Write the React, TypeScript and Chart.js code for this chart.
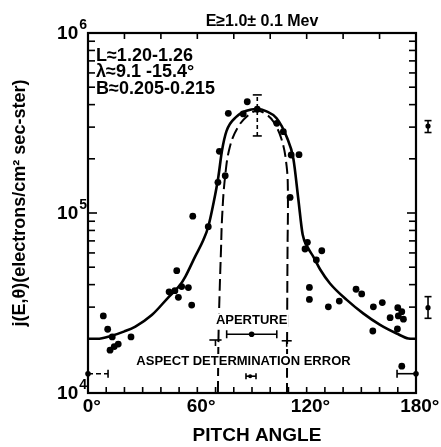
import { useEffect, useRef } from "react";
import { Chart, registerables } from "chart.js";

Chart.register(...registerables);

// Measured electron flux vs. pitch angle (degrees, electrons/cm² sec-ster)
const pointAngles = [
  8.4, 10.8, 12.1, 13.3, 14.4, 16.6, 23.6, 44.5, 47.7, 48.7, 49.6, 51.4, 55.1, 56.9, 57.5, 66.0,
  71.3, 72.1, 75.3, 77.0, 85.2, 87.4, 92.9, 103.6, 107.2, 110.9, 111.5, 115.8, 119.1, 120.4, 121.5,
  121.5, 125.3, 128.3, 131.9, 137.9, 147.1, 150.2, 156.3, 156.6, 161.5, 165.8, 169.8, 170.0, 170.3,
  172.2, 172.2, 173.1,
];
const pointFluxes = [
  2.68e4, 2.26e4, 1.73e4, 2.05e4, 1.81e4, 1.87e4, 2.05e4, 3.65e4, 3.7e4, 4.78e4, 3.4e4, 3.9e4, 3.85e4,
  3.08e4, 9.6e4, 8.4e4, 1.48e5, 2.2e5, 1.61e5, 3.58e5, 3.55e5, 4.15e5, 3.77e5, 3.15e5, 2.83e5, 1.22e5,
  2.1e5, 2.11e5, 6.31e4, 6.87e4, 3.86e4, 3.31e4, 5.48e4, 6.17e4, 3.01e4, 3.24e4, 3.77e4, 3.55e4,
  2.21e4, 3.01e4, 3.18e4, 2.62e4, 2.27e4, 2.98e4, 2.68e4, 2.83e4, 1.41e4, 2.57e4,
];

// Fitted distribution (solid)
const fitAngles = [
  0, 5, 13, 20, 26, 35, 44, 50.5, 53.5, 58.7, 63.3, 66, 69, 71.5, 73.5, 76, 81.5, 87, 92.5, 98, 103.5,
  109, 112.7, 115.4, 117.8, 120.5, 123.7, 127.5, 132.8, 142, 151, 160.3, 169.4, 175.8, 180,
];
const fitFluxes = [
  2.0e4, 2.0e4, 2.08e4, 2.2e4, 2.34e4, 2.71e4, 3.39e4, 3.98e4, 4.45e4, 5.71e4, 7.08e4, 8.39e4, 1.15e5,
  1.58e5, 2.21e5, 2.85e5, 3.43e5, 3.7e5, 3.78e5, 3.67e5, 3.36e5, 2.65e5, 2.0e5, 1.2e5, 7.59e4, 6.46e4,
  5.71e4, 4.84e4, 4.06e4, 3.29e4, 2.77e4, 2.39e4, 2.14e4, 2.01e4, 2.0e4,
];

// Distribution corrected for aperture (dashed)
const apertureAngles = [
  71.3, 71.6, 72.2, 73.0, 73.6, 75.2, 77.9, 82.5, 88, 92.9, 97.5, 101.7, 106.3, 109.0, 109.7, 109.5,
  109.3, 109.2,
];
const apertureFluxes = [
  1.0e4, 2.0e4, 3.55e4, 6.3e4, 9.5e4, 1.58e5, 2.34e5, 3.02e5, 3.5e5, 3.7e5, 3.55e5, 3.22e5, 2.55e5,
  1.82e5, 1.29e5, 6.3e4, 2.5e4, 1.0e4,
];

// Vertical error bars (peak and representative bars beside the frame)
const vBarAngles = [92.9, 186.6, 186.6];
const vBarLow = [2.68e5, 2.8e5, 2.6e4];
const vBarHigh = [4.53e5, 3.26e5, 3.43e4];
const vBarMid = [0, 3.04e5, 2.98e4];

// Horizontal error bars: angular resolution, aperture, aspect determination
const hBarMid = [0, 180, 89.8, 89.0];
const hBarFlux = [1.28e4, 1.28e4, 2.12e4, 1.24e4];
const hBarFrom = [0, 169.6, 76.1, 86.7];
const hBarTo = [11, 180, 103.6, 92.2];

// Aspect markers on the aperture limits
const markFrom = [66.6, 106.3];
const markTo = [73.3, 111.8];
const markFlux = [1.97e4, 1.95e4];

// Axis ticks and labels
const bottomTicks = [0, 10, 20, 30, 40, 50, 60, 70, 80, 90, 100, 110, 120, 130, 140, 150, 160, 170, 180];
const topTicks = [0, 20, 40, 60, 80, 100, 120, 140, 160, 180];
const fluxTicks = [
  1e4, 2e4, 3e4, 4e4, 5e4, 6e4, 7e4, 8e4, 9e4, 1e5, 2e5, 3e5, 4e5, 5e5, 6e5, 7e5, 8e5, 9e5, 1e6,
];
const angleLabels = [0, 60, 120, 180];
const decadeValues = [1e4, 1e5, 1e6];
const decadeExponents = ["4", "5", "6"];

const titleText = "E≥1.0± 0.1 Mev";
const conditionLines = ["L≈1.20-1.26", "λ≈9.1 -15.4°", "B≈0.205-0.215"];
const yTitle = "j(E,θ)(electrons/cm² sec-ster)";
const xTitle = "PITCH ANGLE";
const apertureLabel = "APERTURE";
const aspectLabel = "ASPECT DETERMINATION ERROR";

const FONT = "'Liberation Sans', Arial, sans-serif";

const framePlugin = {
  id: "pitchFrame",
  beforeDraw(chart: any) {
    const { ctx, width, height } = chart;
    ctx.save();
    ctx.fillStyle = "#fff";
    ctx.fillRect(0, 0, width, height);
    ctx.restore();
  },
  afterDraw(chart: any) {
    const { ctx, chartArea, scales } = chart;
    const { left, right, top, bottom } = chartArea;
    const xs = scales.x;
    const ys = scales.y;
    const line = (x1: number, y1: number, x2: number, y2: number) => {
      ctx.beginPath();
      ctx.moveTo(x1, y1);
      ctx.lineTo(x2, y2);
      ctx.stroke();
    };
    const dot = (px: number, py: number, r: number) => {
      ctx.beginPath();
      ctx.arc(px, py, r, 0, Math.PI * 2);
      ctx.fill();
    };
    const boxedText = (t: string, cx: number, cy: number) => {
      const w = ctx.measureText(t).width;
      ctx.save();
      ctx.fillStyle = "#fff";
      ctx.fillRect(cx - w / 2 - 1, cy - 7, w + 2, 14);
      ctx.restore();
      ctx.fillText(t, cx, cy);
    };

    ctx.save();
    ctx.strokeStyle = "#000";
    ctx.fillStyle = "#000";

    // frame
    ctx.lineWidth = 2.2;
    ctx.strokeRect(left, top, right - left, bottom - top);

    // inward ticks
    ctx.lineWidth = 1.6;
    bottomTicks.forEach((a) => {
      const px = xs.getPixelForValue(a);
      line(px, bottom, px, bottom - 6);
    });
    topTicks.forEach((a) => {
      const px = xs.getPixelForValue(a);
      line(px, top, px, top + 6);
    });
    fluxTicks.forEach((v) => {
      const py = ys.getPixelForValue(v);
      const len = decadeValues.includes(v) ? 9 : 7;
      line(left, py, left + len, py);
      line(right, py, right - len, py);
    });

    // x tick labels, number centred on the tick
    ctx.font = `bold 19px ${FONT}`;
    ctx.textBaseline = "middle";
    ctx.textAlign = "left";
    angleLabels.forEach((a) => {
      const px = xs.getPixelForValue(a);
      const num = String(a);
      const w = ctx.measureText(num).width;
      ctx.fillText(num + "°", px - w / 2, bottom + 14);
    });

    // y tick labels: 10 with superscript exponent
    decadeValues.forEach((v, i) => {
      const py = ys.getPixelForValue(v);
      ctx.font = `bold 14px ${FONT}`;
      const ew = ctx.measureText(decadeExponents[i]).width;
      ctx.textAlign = "left";
      ctx.textBaseline = "alphabetic";
      ctx.fillText(decadeExponents[i], left - 1 - ew, py - 4);
      ctx.font = `bold 19px ${FONT}`;
      ctx.textAlign = "right";
      ctx.textBaseline = "middle";
      ctx.fillText("10", left - 2 - ew, py + 1);
    });

    // titles
    ctx.textAlign = "center";
    ctx.textBaseline = "middle";
    ctx.font = `bold 16px ${FONT}`;
    ctx.fillText(titleText, 262, 22);
    ctx.font = `bold 19px ${FONT}`;
    ctx.fillText(xTitle, 257, 436);
    ctx.save();
    ctx.translate(20, 203);
    ctx.rotate(-Math.PI / 2);
    ctx.font = `bold 18px ${FONT}`;
    const tw = ctx.measureText(yTitle).width;
    const sx = Math.min(1, 279 / tw);
    ctx.scale(sx, 1);
    ctx.fillText(yTitle, 0, 0);
    ctx.restore();

    // conditions block
    ctx.textAlign = "left";
    ctx.font = `bold 18px ${FONT}`;
    conditionLines.forEach((t, i) => {
      ctx.fillText(t, left + 8, top + 23 + i * 16.5);
    });

    // vertical error bars
    ctx.lineWidth = 1.6;
    vBarAngles.forEach((a, i) => {
      const px = xs.getPixelForValue(a);
      const y1 = ys.getPixelForValue(vBarLow[i]);
      const y2 = ys.getPixelForValue(vBarHigh[i]);
      const cap = i === 0 ? 4.5 : 3.5;
      if (i === 0) ctx.setLineDash([4, 3]);
      line(px, y1, px, y2);
      ctx.setLineDash([]);
      line(px - cap, y1, px + cap, y1);
      line(px - cap, y2, px + cap, y2);
      if (vBarMid[i] > 0) dot(px, ys.getPixelForValue(vBarMid[i]), 2.6);
    });

    // annotation text, on a white ground over the dashed limits
    ctx.textAlign = "center";
    ctx.textBaseline = "middle";
    ctx.font = `bold 13px ${FONT}`;
    boxedText(apertureLabel, xs.getPixelForValue(hBarMid[2]), ys.getPixelForValue(hBarFlux[2]) - 14);
    boxedText(aspectLabel, 243.5, 361);

    // horizontal error bars
    hBarMid.forEach((m, i) => {
      const py = ys.getPixelForValue(hBarFlux[i]);
      const x1 = xs.getPixelForValue(hBarFrom[i]);
      const x2 = xs.getPixelForValue(hBarTo[i]);
      const cap = i === 3 ? 3 : 4;
      if (i === 0) ctx.setLineDash([5, 3]);
      line(x1, py, x2, py);
      ctx.setLineDash([]);
      line(x1, py - cap, x1, py + cap);
      line(x2, py - cap, x2, py + cap);
      dot(xs.getPixelForValue(m), py, i === 3 ? 2 : 2.8);
    });

    // aspect markers on the aperture limits
    markFrom.forEach((f, i) => {
      const py = ys.getPixelForValue(markFlux[i]);
      const x1 = xs.getPixelForValue(f);
      const x2 = xs.getPixelForValue(markTo[i]);
      line(x1, py, x2, py);
      const mid = (x1 + x2) / 2;
      line(mid, py, mid, py + 6);
    });

    ctx.restore();
  },
};

export default function App() {
  const canvasRef = useRef<HTMLCanvasElement | null>(null);

  useEffect(() => {
    const canvas = canvasRef.current;
    if (!canvas) return;
    const pts = pointAngles.map((a, i) => ({ x: a, y: pointFluxes[i] }));
    const fit = fitAngles.map((a, i) => ({ x: a, y: fitFluxes[i] }));
    const ap = apertureAngles.map((a, i) => ({ x: a, y: apertureFluxes[i] }));

    const chart = new Chart(canvas, {
      type: "scatter",
      data: {
        datasets: [
          {
            type: "line",
            data: fit,
            showLine: true,
            borderColor: "#000",
            borderWidth: 2.6,
            pointRadius: 0,
            cubicInterpolationMode: "monotone",
            fill: false,
          } as any,
          {
            type: "line",
            data: ap,
            showLine: true,
            borderColor: "#000",
            borderWidth: 2,
            borderDash: [12, 5],
            pointRadius: 0,
            tension: 0.4,
            fill: false,
          } as any,
          {
            type: "scatter",
            data: pts,
            pointRadius: 3.4,
            pointBackgroundColor: "#000",
            pointBorderWidth: 0,
            borderColor: "#000",
            backgroundColor: "#000",
          } as any,
        ],
      },
      options: {
        responsive: false,
        animation: false,
        events: [],
        layout: { padding: { left: 88, right: 25, top: 33, bottom: 54 } },
        plugins: {
          legend: { display: false },
          tooltip: { enabled: false },
          title: { display: false },
        },
        scales: {
          x: { type: "linear", min: 0, max: 180, display: false },
          y: { type: "logarithmic", min: 1e4, max: 1e6, display: false },
        },
      },
      plugins: [framePlugin],
    });
    return () => chart.destroy();
  }, []);

  return (
    <div style={{ position: "fixed", left: 0, top: 0, width: 441, height: 447, background: "#fff" }}>
      <canvas ref={canvasRef} width={441} height={447} style={{ display: "block" }} />
    </div>
  );
}
